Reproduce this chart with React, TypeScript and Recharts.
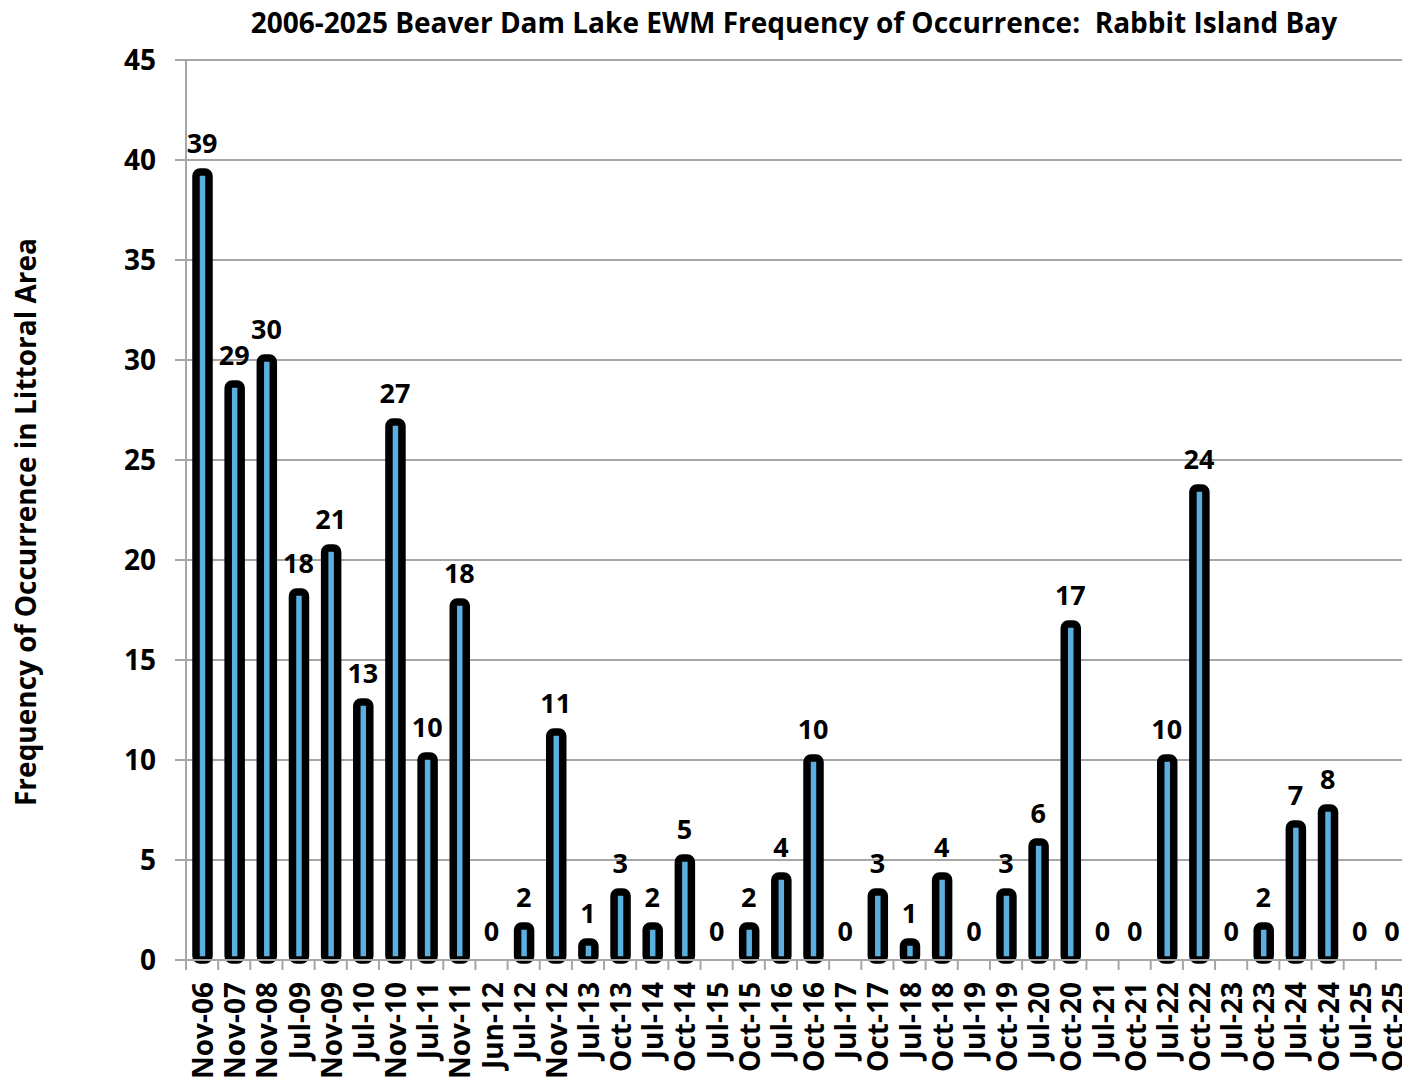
import React from "react";
import { ComposedChart, Bar, Line, XAxis, YAxis, CartesianGrid, LabelList } from "recharts";

const categories = [
  "Nov-06", "Nov-07", "Nov-08", "Jul-09", "Nov-09", "Jul-10", "Nov-10", "Jul-11", "Nov-11",
  "Jun-12", "Jul-12", "Nov-12", "Jul-13", "Oct-13", "Jul-14", "Oct-14", "Jul-15", "Oct-15",
  "Jul-16", "Oct-16", "Jul-17", "Oct-17", "Jul-18", "Oct-18", "Jul-19", "Oct-19", "Jul-20",
  "Oct-20", "Jul-21", "Oct-21", "Jul-22", "Oct-22", "Jul-23", "Oct-23", "Jul-24", "Oct-24",
  "Jul-25", "Oct-25",
];
const frequency = [
  39.4, 28.8, 30.1, 18.4, 20.6, 12.9, 26.9, 10.2, 17.9,
  0, 1.7, 11.4, 0.9, 3.4, 1.7, 5.1, 0, 1.7,
  4.2, 10.1, 0, 3.4, 0.9, 4.2, 0, 3.4, 5.9,
  16.8, 0, 0, 10.1, 23.6, 0, 1.7, 6.8, 7.6,
  0, 0,
];
const yTicks = [0, 5, 10, 15, 20, 25, 30, 35, 40, 45];

const data = categories.map((c, i) => ({ name: c, v: frequency[i] }));

const FONT = "'Open Sans', 'Noto Sans', sans-serif";
const CHART_W = 1402;
const CHART_H = 1075;
const Y_AXIS_W = 178;
const MARGIN_R = 2;
const PLOT_W = CHART_W - Y_AXIS_W - MARGIN_R;
const STEP = PLOT_W / categories.length;
const GRID = "#a6a6a6";

const XTick = (props: any) => {
  const { x, y, payload, index } = props;
  const isLast = index === categories.length - 1;
  return (
    <g>
      <line x1={x - STEP / 2} x2={x - STEP / 2} y1={y - 8} y2={y + 2} stroke={GRID} strokeWidth={2} />
      {isLast && (
        <line x1={x + STEP / 2} x2={x + STEP / 2} y1={y - 8} y2={y + 2} stroke={GRID} strokeWidth={2} />
      )}
      <text
        x={0}
        y={0}
        transform={`translate(${x},${y + 14}) rotate(-90)`}
        textAnchor="end"
        dominantBaseline="central"
        fontFamily={FONT}
        fontWeight="bold"
        fontSize={28}
        fill="#000"
      >
        {payload.value}
      </text>
    </g>
  );
};

export default function App() {
  return (
    <div style={{ position: "relative", width: CHART_W, height: CHART_H, fontFamily: FONT }}>
      <div
        style={{
          position: "absolute",
          left: 0,
          width: CHART_W,
          top: -3,
          paddingLeft: 170,
          boxSizing: "border-box",
          textAlign: "center",
          fontWeight: "bold",
          fontSize: 28,
          lineHeight: "34px",
          whiteSpace: "pre",
          color: "#000",
        }}
      >
        {"2006-2025 Beaver Dam Lake EWM Frequency of Occurrence:  Rabbit Island Bay"}
      </div>
      <div style={{ position: "absolute", left: 17, top: 514, width: 0, height: 0 }}>
        <div
          style={{
            position: "absolute",
            transform: "translate(-50%, -50%) rotate(-90deg)",
            whiteSpace: "nowrap",
            fontWeight: "bold",
            fontSize: 28,
            lineHeight: "34px",
            color: "#000",
          }}
        >
          Frequency of Occurrence in Littoral Area
        </div>
      </div>
      <ComposedChart
        width={CHART_W}
        height={CHART_H}
        data={data}
        margin={{ top: 52, right: MARGIN_R, left: 0, bottom: 0 }}
        barSize={13}
      >
        <CartesianGrid vertical={false} stroke={GRID} strokeWidth={2} />
        <XAxis
          dataKey="name"
          interval={0}
          height={123}
          tickLine={false}
          axisLine={{ stroke: GRID, strokeWidth: 2 }}
          tick={<XTick />}
        />
        <YAxis
          width={Y_AXIS_W}
          domain={[0, 45]}
          ticks={yTicks}
          interval={0}
          tickSize={11}
          tickMargin={19}
          axisLine={{ stroke: GRID, strokeWidth: 2 }}
          tickLine={{ stroke: GRID, strokeWidth: 2 }}
          tick={{ fontFamily: FONT, fontWeight: "bold", fontSize: 28, fill: "#000" }}
        />
        <Bar
          dataKey="v"
          fill="#5aaee0"
          stroke="#000"
          strokeWidth={7.5}
          radius={4}
          isAnimationActive={false}
        />
        <Line
          dataKey="v"
          stroke="none"
          dot={false}
          activeDot={false}
          legendType="none"
          isAnimationActive={false}
        >
          <LabelList
            dataKey="v"
            position="top"
            offset={19}
            formatter={(v: any) => String(Math.round(Number(v)))}
            style={{ fontFamily: FONT, fontWeight: "bold", fontSize: 27, fill: "#000" }}
          />
        </Line>
      </ComposedChart>
    </div>
  );
}
